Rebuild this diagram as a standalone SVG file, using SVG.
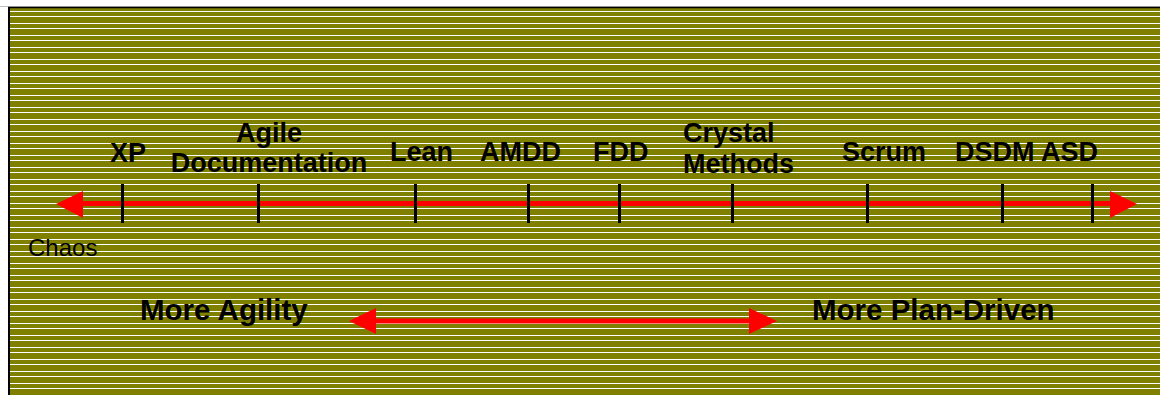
<svg xmlns="http://www.w3.org/2000/svg" width="1160" height="395" viewBox="0 0 1160 395">
  <style>
    .lbl { font-family: "Liberation Sans", Arial, sans-serif; font-weight: bold; font-size: 27px; fill: #000; }
    .big { font-family: "Liberation Sans", Arial, sans-serif; font-weight: bold; font-size: 29.5px; fill: #000; }
    .small { font-family: "Liberation Sans", Arial, sans-serif; font-size: 24px; fill: #000; }
    .tick { stroke: #000; stroke-width: 3; }
    .red { stroke: #ff0000; stroke-width: 5; fill: none; }
    .head { fill: #ff0000; }
  </style>
  <defs>
    <pattern id="stripes" x="0" y="8" width="20" height="12" patternUnits="userSpaceOnUse">
      <rect x="0" y="0" width="20" height="12" fill="#808000"/>
      <rect x="0" y="3" width="20" height="1" fill="#ffffff"/>
      <rect x="0" y="8" width="20" height="1" fill="#ffffff"/>
    </pattern>
  </defs>
  <rect x="0" y="0" width="1160" height="395" fill="#ffffff"/>
  <rect x="9" y="7" width="1151" height="388" fill="url(#stripes)"/>
  <line x1="0" y1="6.5" x2="1160" y2="6.5" stroke="#c0c0c0" stroke-width="1"/>
  <line x1="8" y1="7.5" x2="1160" y2="7.5" stroke="#000" stroke-width="1.5"/>
  <line x1="9" y1="7" x2="9" y2="395" stroke="#000" stroke-width="2"/>

  <g id="connectors">
    <g id="main-axis">
      <line class="red" x1="80" y1="203.5" x2="1112" y2="203.5"/>
      <polygon class="head" points="56,204 83,191 83,218"/>
      <polygon class="head" points="1137,204 1110,191 1110,218"/>
    </g>
    <g id="ticks">
      <line class="tick" x1="122.5" y1="184" x2="122.5" y2="223"/>
      <line class="tick" x1="258.5" y1="184" x2="258.5" y2="223"/>
      <line class="tick" x1="415.5" y1="184" x2="415.5" y2="223"/>
      <line class="tick" x1="528.5" y1="184" x2="528.5" y2="223"/>
      <line class="tick" x1="619.5" y1="184" x2="619.5" y2="223"/>
      <line class="tick" x1="732.5" y1="184" x2="732.5" y2="223"/>
      <line class="tick" x1="867.5" y1="184" x2="867.5" y2="223"/>
      <line class="tick" x1="1002.5" y1="184" x2="1002.5" y2="223"/>
      <line class="tick" x1="1092.5" y1="184" x2="1092.5" y2="223"/>
    </g>
    <g id="agility-arrow">
      <line class="red" x1="372" y1="321" x2="752" y2="321"/>
      <polygon class="head" points="349,321 376,308 376,334"/>
      <polygon class="head" points="777,321 749,308 749,334"/>
    </g>
  </g>

  <g id="node-xp"><text class="lbl" x="110" y="162">XP</text></g>
  <g id="node-agile-doc">
    <text class="lbl" x="269" y="142" text-anchor="middle">Agile</text>
    <text class="lbl" x="269" y="172" text-anchor="middle">Documentation</text>
  </g>
  <g id="node-lean"><text class="lbl" x="390" y="161">Lean</text></g>
  <g id="node-amdd"><text class="lbl" x="480" y="161">AMDD</text></g>
  <g id="node-fdd"><text class="lbl" x="593" y="161">FDD</text></g>
  <g id="node-crystal">
    <text class="lbl" x="683" y="142">Crystal</text>
    <text class="lbl" x="683" y="173">Methods</text>
  </g>
  <g id="node-scrum"><text class="lbl" x="842" y="161">Scrum</text></g>
  <g id="node-dsdm-asd"><text class="lbl" x="955" y="161">DSDM ASD</text></g>
  <g id="node-chaos"><text class="small" x="28" y="256">Chaos</text></g>
  <g id="node-more-agility"><text class="big" x="140" y="320">More Agility</text></g>
  <g id="node-more-plan"><text class="big" x="812" y="320">More Plan-Driven</text></g>
</svg>
